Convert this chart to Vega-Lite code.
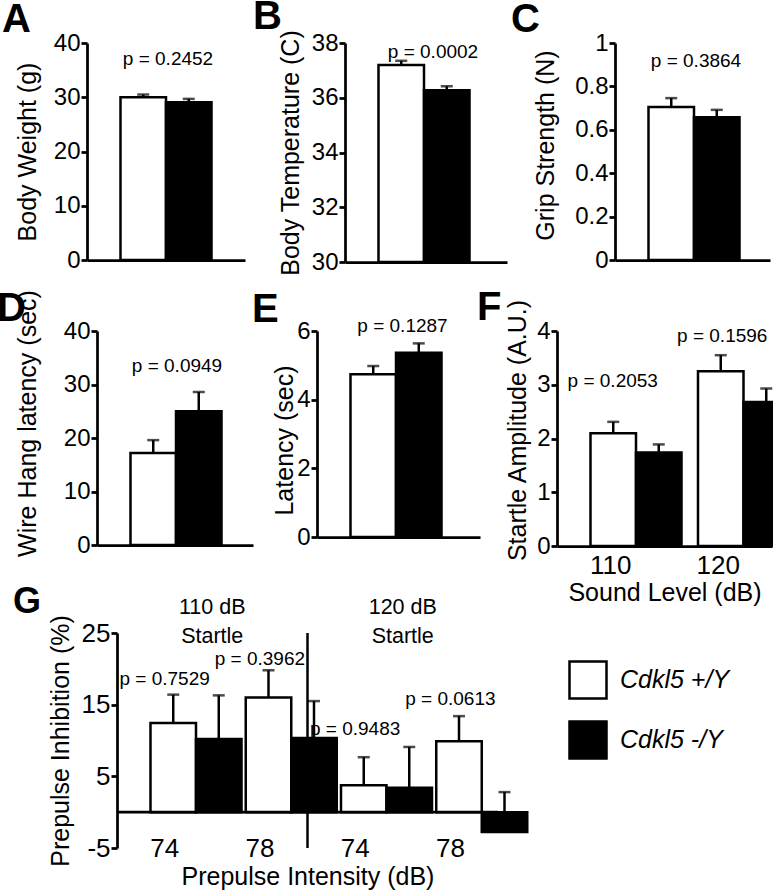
{
  "$schema": "https://vega.github.io/schema/vega-lite/v6.json",
  "autosize": {"type": "none"},
  "padding": {"left": 87, "top": 43, "right": 686, "bottom": 852},
  "background": "white",
  "config": {
    "font": "Liberation Sans",
    "view": {"stroke": null},
    "axis": {"domainColor": "black", "domainWidth": 2.75, "tickColor": "black", "tickWidth": 2.75, "tickSize": 6, "labelFontSize": 24, "labelColor": "black", "labelPadding": 1, "labelFlush": false, "labelOverlap": false, "titleFontSize": 25, "titleFontWeight": "normal", "titleColor": "black", "grid": false, "labelFont": "Liberation Sans", "titleFont": "Liberation Sans"},
    "title": {"fontSize": 40, "fontWeight": "bold", "color": "black", "anchor": "start", "frame": "group", "baseline": "alphabetic", "align": "left", "font": "Liberation Sans"},
    "text": {"font": "Liberation Sans", "color": "black"}
  },
  "spacing": -25,
  "resolve": {"scale": {"fill": "independent"}, "legend": {"fill": "independent"}},
  "vconcat": [
    {
      "spacing": 0,
      "bounds": "flush",
      "resolve": {"scale": {"fill": "independent"}, "legend": {"fill": "independent"}},
      "hconcat": [
        {
          "width": 158, "height": 217,
          "title": {"text": "A", "dx": -85, "offset": -9},
          "data": {"values": [
            {"grp": "A", "gt": "Cdkl5 +/Y", "mean": 30.0, "hi": 30.5},
            {"grp": "A", "gt": "Cdkl5 -/Y", "mean": 29.1, "hi": 29.7}
          ]},
          "layer": [
            {"mark": {"type": "bar", "stroke": "black", "strokeWidth": 2.5},
             "encoding": {
               "x": {"field": "grp", "type": "nominal", "scale": {"paddingInner": 0, "paddingOuter": 0}, "axis": {"labels": false, "ticks": false, "title": null}},
               "xOffset": {"field": "gt", "type": "nominal", "scale": {"domain": ["Cdkl5 +/Y", "Cdkl5 -/Y"], "paddingInner": 0, "paddingOuter": 0.736, "align": 0.5}},
               "y": {"field": "mean", "type": "quantitative", "scale": {"domain": [0, 40], "nice": false}, "axis": {"values": [0, 10, 20, 30, 40], "title": "Body Weight (g)", "titleX": -52, "titleBaseline": "alphabetic"}},
               "fill": {"field": "gt", "type": "nominal", "scale": {"domain": ["Cdkl5 +/Y", "Cdkl5 -/Y"], "range": ["white", "black"]}, "legend": null}
             }},
            {"mark": {"type": "rule", "color": "black", "strokeWidth": 2.5},
             "encoding": {"x": {"field": "grp", "type": "nominal"}, "xOffset": {"field": "gt", "type": "nominal"}, "y": {"field": "mean", "type": "quantitative", "scale": {"domain": [0, 40], "nice": false}}, "y2": {"field": "hi"}}},
            {"mark": {"type": "tick", "color": "black", "thickness": 2.5, "size": 12, "orient": "horizontal"},
             "encoding": {"x": {"field": "grp", "type": "nominal"}, "xOffset": {"field": "gt", "type": "nominal"}, "y": {"field": "hi", "type": "quantitative", "scale": {"domain": [0, 40], "nice": false}}}},
            {"data": {"values": [{"grp": "A", "p": "p = 0.2452"}]},
             "mark": {"type": "text", "fontSize": 19, "baseline": "alphabetic", "dx": 2},
             "encoding": {"x": {"field": "grp", "type": "nominal"}, "y": {"datum": 35.94, "scale": {"domain": [0, 40], "nice": false}}, "text": {"field": "p"}}}
          ]
        },
        {"width": 100, "height": 1, "data": {"values": []}, "mark": "point", "encoding": {}},
        {
          "width": 162, "height": 219,
          "title": {"text": "B", "dx": -92, "offset": -7},
          "data": {"values": [
            {"grp": "B", "gt": "Cdkl5 +/Y", "mean": 37.2, "hi": 37.35},
            {"grp": "B", "gt": "Cdkl5 -/Y", "mean": 36.27, "hi": 36.42}
          ]},
          "layer": [
            {"mark": {"type": "bar", "stroke": "black", "strokeWidth": 2.5},
             "encoding": {
               "x": {"field": "grp", "type": "nominal", "scale": {"paddingInner": 0, "paddingOuter": 0}, "axis": {"labels": false, "ticks": false, "title": null}},
               "xOffset": {"field": "gt", "type": "nominal", "scale": {"domain": ["Cdkl5 +/Y", "Cdkl5 -/Y"], "paddingInner": 0, "paddingOuter": 0.8, "align": 0.556}},
               "y": {"field": "mean", "type": "quantitative", "scale": {"domain": [30, 38], "zero": false, "nice": false}, "axis": {"values": [30, 32, 34, 36, 38], "title": "Body Temperature (C)", "titleX": -47, "titleBaseline": "alphabetic"}},
               "y2": {"datum": 30},
               "fill": {"field": "gt", "type": "nominal", "scale": {"domain": ["Cdkl5 +/Y", "Cdkl5 -/Y"], "range": ["white", "black"]}, "legend": null}
             }},
            {"mark": {"type": "rule", "color": "black", "strokeWidth": 2.5},
             "encoding": {"x": {"field": "grp", "type": "nominal"}, "xOffset": {"field": "gt", "type": "nominal"}, "y": {"field": "mean", "type": "quantitative", "scale": {"domain": [30, 38], "zero": false, "nice": false}}, "y2": {"field": "hi"}}},
            {"mark": {"type": "tick", "color": "black", "thickness": 2.5, "size": 12, "orient": "horizontal"},
             "encoding": {"x": {"field": "grp", "type": "nominal"}, "xOffset": {"field": "gt", "type": "nominal"}, "y": {"field": "hi", "type": "quantitative", "scale": {"domain": [30, 38], "zero": false, "nice": false}}}},
            {"data": {"values": [{"grp": "B", "p": "p = 0.0002"}]},
             "mark": {"type": "text", "fontSize": 19, "baseline": "alphabetic", "dx": 7},
             "encoding": {"x": {"field": "grp", "type": "nominal"}, "y": {"datum": 37.45, "scale": {"domain": [30, 38], "zero": false, "nice": false}}, "text": {"field": "p"}}}
          ]
        },
        {"width": 108, "height": 1, "data": {"values": []}, "mark": "point", "encoding": {}},
        {
          "width": 155, "height": 217,
          "title": {"text": "C", "dx": -104, "offset": -9},
          "data": {"values": [
            {"grp": "C", "gt": "Cdkl5 +/Y", "mean": 0.705, "hi": 0.746},
            {"grp": "C", "gt": "Cdkl5 -/Y", "mean": 0.658, "hi": 0.692}
          ]},
          "layer": [
            {"mark": {"type": "bar", "stroke": "black", "strokeWidth": 2.5},
             "encoding": {
               "x": {"field": "grp", "type": "nominal", "scale": {"paddingInner": 0, "paddingOuter": 0}, "axis": {"labels": false, "ticks": false, "title": null}},
               "xOffset": {"field": "gt", "type": "nominal", "scale": {"domain": ["Cdkl5 +/Y", "Cdkl5 -/Y"], "paddingInner": 0, "paddingOuter": 0.703, "align": 0.516}},
               "y": {"field": "mean", "type": "quantitative", "scale": {"domain": [0, 1], "nice": false}, "axis": {"values": [0, 0.2, 0.4, 0.6, 0.8, 1], "labelExpr": "'' + datum.value", "title": "Grip Strength (N)", "titleX": -62, "titleY": 102, "titleBaseline": "alphabetic"}},
               "fill": {"field": "gt", "type": "nominal", "scale": {"domain": ["Cdkl5 +/Y", "Cdkl5 -/Y"], "range": ["white", "black"]}, "legend": null}
             }},
            {"mark": {"type": "rule", "color": "black", "strokeWidth": 2.5},
             "encoding": {"x": {"field": "grp", "type": "nominal"}, "xOffset": {"field": "gt", "type": "nominal"}, "y": {"field": "mean", "type": "quantitative", "scale": {"domain": [0, 1], "nice": false}}, "y2": {"field": "hi"}}},
            {"mark": {"type": "tick", "color": "black", "thickness": 2.5, "size": 12, "orient": "horizontal"},
             "encoding": {"x": {"field": "grp", "type": "nominal"}, "xOffset": {"field": "gt", "type": "nominal"}, "y": {"field": "hi", "type": "quantitative", "scale": {"domain": [0, 1], "nice": false}}}},
            {"data": {"values": [{"grp": "C", "p": "p = 0.3864"}]},
             "mark": {"type": "text", "fontSize": 19, "baseline": "alphabetic", "dx": 3.5},
             "encoding": {"x": {"field": "grp", "type": "nominal"}, "y": {"datum": 0.889, "scale": {"domain": [0, 1], "nice": false}}, "text": {"field": "p"}}}
          ]
        }
      ]
    },
    {"width": 1, "height": 37, "data": {"values": []}, "mark": "point", "encoding": {}},
    {
      "spacing": 0,
      "bounds": "flush",
      "resolve": {"scale": {"fill": "independent"}, "legend": {"fill": "independent"}},
      "hconcat": [
        {"width": 10, "height": 1, "data": {"values": []}, "mark": "point", "encoding": {}},
        {
          "width": 156, "height": 214,
          "title": {"text": "D", "dx": -100, "offset": -39},
          "data": {"values": [
            {"grp": "D", "gt": "Cdkl5 +/Y", "mean": 17.2, "hi": 19.6},
            {"grp": "D", "gt": "Cdkl5 -/Y", "mean": 25.0, "hi": 28.6}
          ]},
          "layer": [
            {"mark": {"type": "bar", "stroke": "black", "strokeWidth": 2.5},
             "encoding": {
               "x": {"field": "grp", "type": "nominal", "scale": {"paddingInner": 0, "paddingOuter": 0}, "axis": {"labels": false, "ticks": false, "title": null}},
               "xOffset": {"field": "gt", "type": "nominal", "scale": {"domain": ["Cdkl5 +/Y", "Cdkl5 -/Y"], "paddingInner": 0, "paddingOuter": 0.714, "align": 0.508}},
               "y": {"field": "mean", "type": "quantitative", "scale": {"domain": [0, 40], "nice": false}, "axis": {"values": [0, 10, 20, 30, 40], "title": "Wire Hang latency (sec)", "titleX": -62, "titleY": 92, "titleBaseline": "alphabetic"}},
               "fill": {"field": "gt", "type": "nominal", "scale": {"domain": ["Cdkl5 +/Y", "Cdkl5 -/Y"], "range": ["white", "black"]}, "legend": null}
             }},
            {"mark": {"type": "rule", "color": "black", "strokeWidth": 2.5},
             "encoding": {"x": {"field": "grp", "type": "nominal"}, "xOffset": {"field": "gt", "type": "nominal"}, "y": {"field": "mean", "type": "quantitative", "scale": {"domain": [0, 40], "nice": false}}, "y2": {"field": "hi"}}},
            {"mark": {"type": "tick", "color": "black", "thickness": 2.5, "size": 12, "orient": "horizontal"},
             "encoding": {"x": {"field": "grp", "type": "nominal"}, "xOffset": {"field": "gt", "type": "nominal"}, "y": {"field": "hi", "type": "quantitative", "scale": {"domain": [0, 40], "nice": false}}}},
            {"data": {"values": [{"grp": "D", "p": "p = 0.0949"}]},
             "mark": {"type": "text", "fontSize": 19, "baseline": "alphabetic", "dx": 2},
             "encoding": {"x": {"field": "grp", "type": "nominal"}, "y": {"datum": 32.3, "scale": {"domain": [0, 40], "nice": false}}, "text": {"field": "p"}}}
          ]
        },
        {"width": 64, "height": 1, "data": {"values": []}, "mark": "point", "encoding": {}},
        {
          "width": 163, "height": 206,
          "title": {"text": "E", "dx": -65, "offset": -13},
          "data": {"values": [
            {"grp": "E", "gt": "Cdkl5 +/Y", "mean": 4.74, "hi": 4.98},
            {"grp": "E", "gt": "Cdkl5 -/Y", "mean": 5.37, "hi": 5.64}
          ]},
          "layer": [
            {"mark": {"type": "bar", "stroke": "black", "strokeWidth": 2.5},
             "encoding": {
               "x": {"field": "grp", "type": "nominal", "scale": {"paddingInner": 0, "paddingOuter": 0}, "axis": {"labels": false, "ticks": false, "title": null}},
               "xOffset": {"field": "gt", "type": "nominal", "scale": {"domain": ["Cdkl5 +/Y", "Cdkl5 -/Y"], "paddingInner": 0, "paddingOuter": 0.831, "align": 0.58}},
               "y": {"field": "mean", "type": "quantitative", "scale": {"domain": [0, 6], "nice": false}, "axis": {"values": [0, 1, 2, 3, 4, 5, 6], "labelExpr": "'' + datum.value", "title": "Latency (sec)", "titleX": -25, "titleY": 109, "titleBaseline": "alphabetic"}},
               "fill": {"field": "gt", "type": "nominal", "scale": {"domain": ["Cdkl5 +/Y", "Cdkl5 -/Y"], "range": ["white", "black"]}, "legend": null}
             }},
            {"mark": {"type": "rule", "color": "black", "strokeWidth": 2.5},
             "encoding": {"x": {"field": "grp", "type": "nominal"}, "xOffset": {"field": "gt", "type": "nominal"}, "y": {"field": "mean", "type": "quantitative", "scale": {"domain": [0, 6], "nice": false}}, "y2": {"field": "hi"}}},
            {"mark": {"type": "tick", "color": "black", "thickness": 2.5, "size": 12, "orient": "horizontal"},
             "encoding": {"x": {"field": "grp", "type": "nominal"}, "xOffset": {"field": "gt", "type": "nominal"}, "y": {"field": "hi", "type": "quantitative", "scale": {"domain": [0, 6], "nice": false}}}},
            {"data": {"values": [{"grp": "E", "p": "p = 0.1287"}]},
             "mark": {"type": "text", "fontSize": 19, "baseline": "alphabetic", "dx": 4},
             "encoding": {"x": {"field": "grp", "type": "nominal"}, "y": {"datum": 5.97, "scale": {"domain": [0, 6], "nice": false}}, "text": {"field": "p"}}}
          ]
        },
        {"width": 77, "height": 1, "data": {"values": []}, "mark": "point", "encoding": {}},
        {
          "width": 215, "height": 215,
          "title": {"text": "F", "dx": -80, "offset": -29.5},
          "data": {"values": [
            {"lvl": "110", "gt": "Cdkl5 +/Y", "mean": 2.10, "hi": 2.31},
            {"lvl": "110", "gt": "Cdkl5 -/Y", "mean": 1.74, "hi": 1.89},
            {"lvl": "120", "gt": "Cdkl5 +/Y", "mean": 3.25, "hi": 3.55},
            {"lvl": "120", "gt": "Cdkl5 -/Y", "mean": 2.68, "hi": 2.93}
          ]},
          "layer": [
            {"mark": {"type": "bar", "stroke": "black", "strokeWidth": 2.5},
             "encoding": {
               "x": {"field": "lvl", "type": "nominal", "scale": {"domain": ["110", "120"], "paddingInner": 0, "paddingOuter": 0}, "axis": {"ticks": false, "labelPadding": 6, "labelFontSize": 26, "labelAngle": 0, "title": "Sound Level (dB)", "titleY": 54, "titleBaseline": "alphabetic"}},
               "xOffset": {"field": "gt", "type": "nominal", "scale": {"domain": ["Cdkl5 +/Y", "Cdkl5 -/Y"], "paddingInner": 0, "paddingOuter": 0.706, "align": 0.517}},
               "y": {"field": "mean", "type": "quantitative", "scale": {"domain": [0, 4], "nice": false}, "axis": {"values": [0, 1, 2, 3, 4], "labelExpr": "'' + datum.value", "title": "Startle Amplitude (A.U.)", "titleX": -32, "titleY": 99, "titleBaseline": "alphabetic"}},
               "fill": {"field": "gt", "type": "nominal", "scale": {"domain": ["Cdkl5 +/Y", "Cdkl5 -/Y"], "range": ["white", "black"]}, "legend": null}
             }},
            {"mark": {"type": "rule", "color": "black", "strokeWidth": 2.5},
             "encoding": {"x": {"field": "lvl", "type": "nominal"}, "xOffset": {"field": "gt", "type": "nominal"}, "y": {"field": "mean", "type": "quantitative", "scale": {"domain": [0, 4], "nice": false}}, "y2": {"field": "hi"}}},
            {"mark": {"type": "tick", "color": "black", "thickness": 2.5, "size": 12, "orient": "horizontal"},
             "encoding": {"x": {"field": "lvl", "type": "nominal"}, "xOffset": {"field": "gt", "type": "nominal"}, "y": {"field": "hi", "type": "quantitative", "scale": {"domain": [0, 4], "nice": false}}}},
            {"data": {"values": [{"lvl": "110", "p": "p = 0.2053"}]},
             "mark": {"type": "text", "fontSize": 19, "baseline": "alphabetic", "dx": 2},
             "encoding": {"x": {"field": "lvl", "type": "nominal"}, "y": {"datum": 2.96, "scale": {"domain": [0, 4], "nice": false}}, "text": {"field": "p"}}},
            {"data": {"values": [{"lvl": "120", "p": "p = 0.1596"}]},
             "mark": {"type": "text", "fontSize": 19, "baseline": "alphabetic", "dx": 4},
             "encoding": {"x": {"field": "lvl", "type": "nominal"}, "y": {"datum": 3.80, "scale": {"domain": [0, 4], "nice": false}}, "text": {"field": "p"}}}
          ]
        }
      ]
    },
    {"width": 1, "height": 4, "data": {"values": []}, "mark": "point", "encoding": {}},
    {
      "spacing": 0,
      "bounds": "flush",
      "resolve": {"scale": {"fill": "independent"}, "legend": {"fill": "independent"}},
      "hconcat": [
        {"width": 30, "height": 1, "data": {"values": []}, "mark": "point", "encoding": {}},
        {
          "width": 381, "height": 215,
          "title": {"text": "G", "dx": -104, "offset": -24, "fontSize": 36},
          "data": {"values": [
            {"cond": "110|74", "gt": "Cdkl5 +/Y", "mean": 12.45, "hi": 16.4},
            {"cond": "110|74", "gt": "Cdkl5 -/Y", "mean": 10.2, "hi": 16.3},
            {"cond": "110|78", "gt": "Cdkl5 +/Y", "mean": 16.0, "hi": 19.8},
            {"cond": "110|78", "gt": "Cdkl5 -/Y", "mean": 10.36, "hi": 15.5},
            {"cond": "120|74", "gt": "Cdkl5 +/Y", "mean": 3.76, "hi": 7.67},
            {"cond": "120|74", "gt": "Cdkl5 -/Y", "mean": 3.39, "hi": 9.1},
            {"cond": "120|78", "gt": "Cdkl5 +/Y", "mean": 9.9, "hi": 13.4},
            {"cond": "120|78", "gt": "Cdkl5 -/Y", "mean": -2.75, "hi": 2.8}
          ]},
          "layer": [
            {"mark": {"type": "bar", "stroke": "black", "strokeWidth": 2.5},
             "encoding": {
               "x": {"field": "cond", "type": "nominal", "scale": {"domain": ["110|74", "110|78", "120|74", "120|78"], "paddingInner": 0, "paddingOuter": 0}, "axis": {"domain": false, "ticks": false, "labelPadding": -13, "labelFontSize": 26, "labelAngle": 0, "labelExpr": "split(datum.label, '|')[1]", "title": "Prepulse Intensity (dB)", "titleY": 36, "titleBaseline": "alphabetic"}},
               "xOffset": {"field": "gt", "type": "nominal", "scale": {"domain": ["Cdkl5 +/Y", "Cdkl5 -/Y"], "paddingInner": 0, "paddingOuter": 0.70, "align": 0.535}},
               "y": {"field": "mean", "type": "quantitative", "scale": {"domain": [-5, 25], "nice": false}, "axis": {"values": [-5, 0, 5, 10, 15, 20, 25], "labelExpr": "'' + datum.value", "labelFontSize": 26, "title": "Prepulse Inhibition (%)", "titleX": -49, "titleBaseline": "alphabetic"}},
               "fill": {"field": "gt", "type": "nominal", "scale": {"domain": ["Cdkl5 +/Y", "Cdkl5 -/Y"], "range": ["white", "black"]},
                        "legend": {"orient": "none", "legendX": 451, "legendY": 27, "direction": "vertical", "title": null, "symbolType": "square", "symbolSize": 1369, "symbolStrokeColor": "black", "symbolStrokeWidth": 2.5, "symbolOpacity": 1, "labelFontSize": 25, "labelFontStyle": "italic", "labelFont": "Liberation Sans", "labelColor": "black", "labelOffset": 12, "rowPadding": 12, "padding": 0}}
             }},
            {"mark": {"type": "rule", "color": "black", "strokeWidth": 2.5},
             "encoding": {"x": {"field": "cond", "type": "nominal"}, "xOffset": {"field": "gt", "type": "nominal"}, "y": {"field": "mean", "type": "quantitative", "scale": {"domain": [-5, 25], "nice": false}}, "y2": {"field": "hi"}}},
            {"mark": {"type": "tick", "color": "black", "thickness": 2.5, "size": 12, "orient": "horizontal"},
             "encoding": {"x": {"field": "cond", "type": "nominal"}, "xOffset": {"field": "gt", "type": "nominal"}, "y": {"field": "hi", "type": "quantitative", "scale": {"domain": [-5, 25], "nice": false}}}},
            {"data": {"values": [{}]},
             "mark": {"type": "rule", "color": "black", "strokeWidth": 2.75},
             "encoding": {"y": {"datum": 0, "scale": {"domain": [-5, 25], "nice": false}}}},
            {"data": {"values": [{}]},
             "mark": {"type": "rule", "color": "black", "strokeWidth": 2.5},
             "encoding": {"x": {"datum": "110|78", "bandPosition": 1}, "y": {"datum": -5, "scale": {"domain": [-5, 25], "nice": false}}, "y2": {"datum": 25}}},
            {"data": {"values": [{"cond": "110|74", "h": "110 dB\nStartle"}, {"cond": "120|74", "h": "120 dB\nStartle"}]},
             "mark": {"type": "text", "fontSize": 21.5, "lineBreak": "\n", "lineHeight": 29, "baseline": "alphabetic"},
             "encoding": {"x": {"field": "cond", "type": "nominal", "bandPosition": 1}, "y": {"datum": 27.65, "scale": {"domain": [-5, 25], "nice": false}}, "text": {"field": "h"}}},
            {"data": {"values": [{"cond": "110|74", "p": "p = 0.7529"}]},
             "mark": {"type": "text", "fontSize": 19, "baseline": "alphabetic"},
             "encoding": {"x": {"field": "cond", "type": "nominal"}, "y": {"datum": 17.75, "scale": {"domain": [-5, 25], "nice": false}}, "text": {"field": "p"}}},
            {"data": {"values": [{"cond": "110|78", "p": "p = 0.3962"}]},
             "mark": {"type": "text", "fontSize": 19, "baseline": "alphabetic"},
             "encoding": {"x": {"field": "cond", "type": "nominal"}, "y": {"datum": 20.54, "scale": {"domain": [-5, 25], "nice": false}}, "text": {"field": "p"}}},
            {"data": {"values": [{"cond": "120|74", "p": "p = 0.9483"}]},
             "mark": {"type": "text", "fontSize": 19, "baseline": "alphabetic"},
             "encoding": {"x": {"field": "cond", "type": "nominal"}, "y": {"datum": 10.77, "scale": {"domain": [-5, 25], "nice": false}}, "text": {"field": "p"}}},
            {"data": {"values": [{"cond": "120|78", "p": "p = 0.0613"}]},
             "mark": {"type": "text", "fontSize": 19, "baseline": "alphabetic"},
             "encoding": {"x": {"field": "cond", "type": "nominal"}, "y": {"datum": 14.96, "scale": {"domain": [-5, 25], "nice": false}}, "text": {"field": "p"}}}
          ]
        }
      ]
    }
  ]
}
